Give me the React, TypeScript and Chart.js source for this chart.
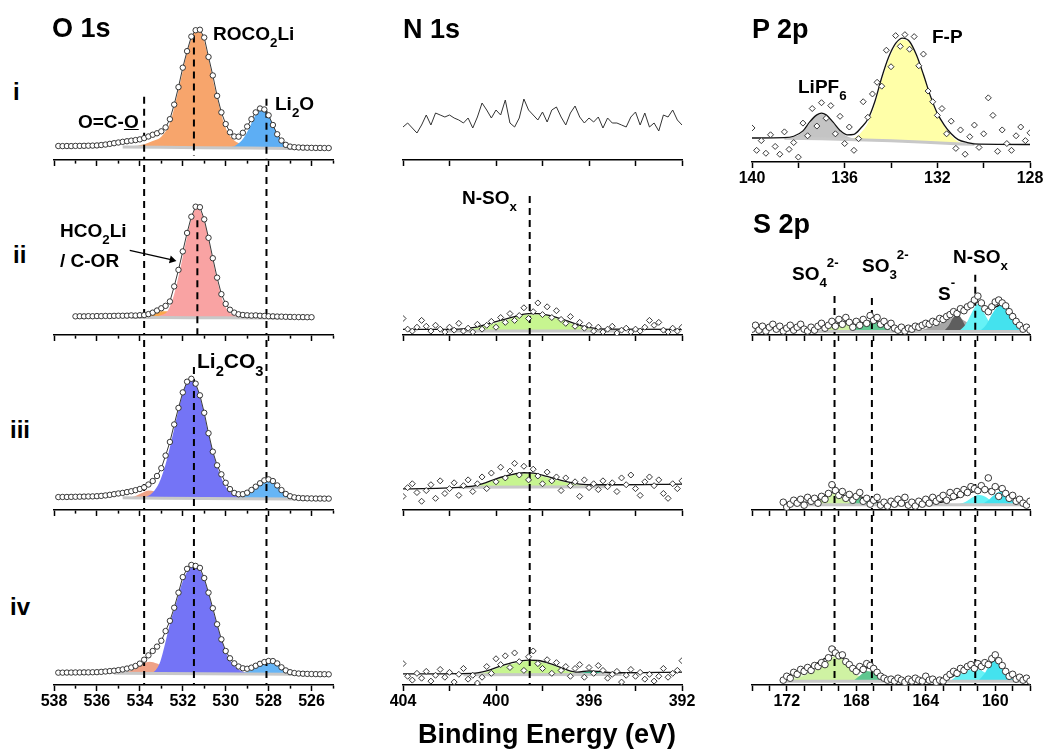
import React, { useEffect, useRef } from 'react';
import { Chart, registerables } from 'chart.js';

Chart.register(...registerables);

const AREA_H = 175;
const AXIS_H = 34;
const PAD = 22;
const FONT = '"Liberation Sans", Arial, Helvetica, sans-serif';
Chart.defaults.font.family = FONT;

// ================= O 1s =================
const O1S_BE = [537.8, 537.6, 537.4, 537.2, 537.0, 536.8, 536.6, 536.4, 536.2, 536.0,
  535.8, 535.6, 535.4, 535.2, 535.0, 534.8, 534.6, 534.4, 534.2, 534.0,
  533.8, 533.6, 533.4, 533.2, 533.0, 532.8, 532.6, 532.4, 532.2, 532.0,
  531.8, 531.6, 531.4, 531.2, 531.0, 530.8, 530.6, 530.4, 530.2, 530.0,
  529.8, 529.6, 529.4, 529.2, 529.0, 528.8, 528.6, 528.4, 528.2, 528.0,
  527.8, 527.6, 527.4, 527.2, 527.0, 526.8, 526.6, 526.4, 526.2, 526.0,
  525.8, 525.6, 525.4, 525.2];
const O1S_I = [14.4, 14.3, 14.4, 14.3, 14.5, 14.5, 14.6, 14.7, 14.8, 15.0,
  15.4, 15.9, 16.6, 17.3, 18.0, 18.7, 19.3, 19.9, 20.5, 21.2,
  22.5, 24.2, 26.0, 27.5, 29.5, 33.5, 42, 57, 75, 95,
  112, 127, 133.5, 134, 126, 106, 87, 66, 49, 37,
  28.5, 24.2, 24, 28, 34.5, 42, 49, 53, 52, 46,
  36, 26.5, 20, 15.6, 13.8, 13.2, 12.9, 12.7, 12.6, 12.5,
  12.4, 12.4, 12.3, 12.3];
const O1S_II = [null, null, null, null, 19.2, 19.3, 19.2, 19.4, 19.3, 19.5,
  19.4, 19.6, 19.5, 19.7, 19.8, 19.8, 19.9, 20.2, 20.0, 20.4,
  20.5, 21.5, 23, 25.2, 27.5, 30, 34.5, 50, 67, 86,
  105, 121.7, 132, 131.5, 119, 100, 79, 59, 42, 32,
  26, 23, 21.3, 20.6, 20.3, 20, 20.2, 19.8, 19.6, 19.3,
  19.2, 19, 18.9, 18.7, 18.6, 18.5, 18.4, 18.4, 18.3, 18.3,
  null, null, null, null];
const O1S_III = [13.3, 13.4, 13.4, 13.5, 13.6, 13.7, 13.8, 13.9, 14.0, 14.2,
  14.5, 15.0, 15.6, 16.3, 17.0, 17.6, 18.4, 19.3, 20.4, 21.6,
  23.3, 26.2, 29.8, 35, 43, 56, 70, 88, 105, 121,
  132, 135, 130, 118, 100, 79, 60, 46, 36.7, 28,
  21.5, 17.5, 16.2, 16.3, 17.8, 20.6, 24, 27.5, 30.5, 31.5,
  29.8, 25.3, 20.5, 16.5, 14.2, 13, 12.4, 12.1, 12, 11.9,
  11.8, 11.8, 11.7, 11.7];
const O1S_IV = [12.7, 12.7, 12.8, 12.8, 12.9, 12.9, 13.0, 13.0, 13.1, 13.2,
  13.5, 13.9, 14.3, 14.7, 15.3, 16.0, 16.9, 18.0, 19.6, 22.0,
  26, 30.5, 35, 39.5, 45.5, 55.5, 66, 79.5, 95, 111,
  119.5, 123.5, 122.5, 120.5, 110, 95, 79, 62.5, 47, 35,
  27.5, 22.3, 19, 17.2, 16.7, 17.8, 19.8, 21.8, 23.6, 24.7,
  24.6, 22.2, 18.2, 15, 13.2, 12.3, 11.8, 11.6, 11.4, 11.3,
  11.2, 11.1, 11.1, 11.0];

// panel i components
const O1S_I_BG_BE = [534.8, 533.0, 531.0, 529.0, 527.0, 526.6];
const O1S_I_BG = [13.4, 13.0, 12.7, 12.3, 11.9, 11.9];
const O1S_I_OCO_BE = [534.6, 534.0, 533.6, 533.2, 532.8, 532.4, 532.0];
const O1S_I_OCO = [13.4, 15.5, 17, 16.5, 14.5, 13.2, 12.9];
const O1S_I_ROCO_BE = [534.4, 533.8, 533.4, 533.0, 532.6, 532.2, 531.8, 531.5, 531.3, 531.1, 530.8, 530.4, 530.0, 529.6, 529.2, 528.8, 528.4];
const O1S_I_ROCO = [13.3, 16, 19.5, 24, 38, 72, 110, 130, 133, 129, 104, 64, 33, 20, 16, 13.5, 12.5];
const O1S_I_LI2O_BE = [529.8, 529.5, 529.2, 528.9, 528.6, 528.3, 528.0, 527.7, 527.4, 527.1, 526.8];
const O1S_I_LI2O = [12.6, 15.5, 21.5, 33, 46.5, 52.5, 46, 31.5, 19.5, 14.5, 12.2];
// panel ii components
const O1S_II_BG_BE = [534.4, 533.0, 531.5, 530.0, 528.5, 527.4];
const O1S_II_BG = [18.0, 17.9, 17.8, 17.7, 17.6, 17.5];
const O1S_II_OR_BE = [534.2, 533.8, 533.4, 533.0, 532.7, 532.4, 532.0, 531.6];
const O1S_II_OR = [18, 19.5, 22.5, 24.5, 24.5, 22.5, 19.5, 18];
const O1S_II_PINK_BE = [533.4, 533.0, 532.7, 532.4, 532.1, 531.8, 531.55, 531.32, 531.1, 530.85, 530.6, 530.35, 530.1, 529.85, 529.5, 529.1];
const O1S_II_PINK = [18, 20.5, 25, 42, 70, 101, 123, 131, 124, 104, 77, 52, 33, 24, 19.5, 17.7];
const O1S_II_ARROW_BE = [534.47, 532.5];
const O1S_II_ARROW = [87, 77.3];
// panel iii components
const O1S_III_BG_BE = [534.8, 533.0, 531.0, 529.0, 527.0, 526.3];
const O1S_III_BG = [12.5, 12.2, 11.9, 11.6, 11.3, 11.2];
const O1S_III_SAL_BE = [534.6, 534.2, 533.9, 533.6, 533.3, 533.0, 532.7, 532.4];
const O1S_III_SAL = [12.4, 14.5, 17.5, 20, 19, 16, 13.5, 12.2];
const O1S_III_CO3_BE = [533.8, 533.4, 533.1, 532.8, 532.5, 532.2, 531.9, 531.64, 531.4, 531.1, 530.8, 530.5, 530.2, 529.9, 529.5, 529.1];
const O1S_III_CO3 = [12.3, 18, 28, 47, 74, 103, 126, 134, 129, 108, 78, 52, 33, 21, 14.5, 12];
const O1S_III_LI2O_BE = [529.6, 529.2, 528.9, 528.6, 528.3, 528.05, 527.8, 527.5, 527.2, 526.9, 526.5];
const O1S_III_LI2O = [11.9, 14, 18.5, 23.5, 29, 31, 29.3, 23, 16.5, 13, 11.3];
// panel iv components
const O1S_IV_BG_BE = [535.2, 533.0, 531.0, 529.0, 527.0, 526.3];
const O1S_IV_BG = [12.0, 11.8, 11.6, 11.4, 11.1, 11.0];
const O1S_IV_SAL_BE = [535.0, 534.6, 534.2, 533.9, 533.55, 533.2, 532.9, 532.6, 532.3, 532.0];
const O1S_IV_SAL = [12, 13.5, 17, 21.5, 24, 22, 18, 14.5, 12.5, 11.8];
const O1S_IV_CO3_BE = [533.6, 533.3, 533.05, 532.85, 532.6, 532.3, 532.0, 531.75, 531.5, 531.25, 531.0, 530.75, 530.5, 530.25, 530.0, 529.7, 529.4, 529.0, 528.6];
const O1S_IV_CO3 = [11.8, 14.5, 24, 40, 63, 85, 107, 118, 122, 119.5, 108.5, 90, 69.5, 50.5, 34, 22.5, 16, 12.5, 11.4];
const O1S_IV_LI2O_BE = [529.3, 528.9, 528.6, 528.3, 528.0, 527.75, 527.45, 527.15, 526.8, 526.5];
const O1S_IV_LI2O = [11.5, 14.5, 18.5, 22.5, 24.5, 24, 19, 14.5, 12, 11.1];

// ================= N 1s =================
const N1S_BE = [404, 403.8, 403.6, 403.4, 403.2, 403, 402.8, 402.6, 402.4, 402.2,
  402, 401.8, 401.6, 401.4, 401.2, 401, 400.8, 400.6, 400.4, 400.2,
  400, 399.8, 399.6, 399.4, 399.2, 399, 398.8, 398.6, 398.4, 398.2,
  398, 397.8, 397.6, 397.4, 397.2, 397, 396.8, 396.6, 396.4, 396.2,
  396, 395.8, 395.6, 395.4, 395.2, 395, 394.8, 394.6, 394.4, 394.2,
  394, 393.8, 393.6, 393.4, 393.2, 393, 392.8, 392.6, 392.4, 392.2, 392];
const N1S_I = [33, 37, 32, 27, 35, 45, 35, 47, 45, 43,
  45, 42, 40, 37, 42, 32, 43, 57, 50, 42,
  50, 45, 60, 37, 33, 42, 61, 50, 45, 40,
  48, 38, 50, 53, 43, 35, 47, 54, 43, 37,
  42, 38, 43, 32, 42, 37, 37, 35, 33, 43,
  48, 35, 47, 33, 37, 29, 45, 43, 50, 40, 35];
const N1S_II = [17, 6, 4, 8, 15, 9, 4, 10, 6, 3,
  8, 5, 12, 4, 7, 3, 11, 6, 10, 14,
  8, 18, 13, 22, 15, 20, 28, 17, 24, 33,
  21, 29, 18, 25, 16, 12, 19, 9, 13, 7,
  10, 4, 8, 3, 6, 9, 2, 5, 7, 3,
  6, 4, 8, 15, 10, 13, 5, 3, 7, 4, 8];
const N1S_III = [14, 23, 27, 18, 9, 20, 26, 12, 30, 17,
  22, 28, 15, 25, 31, 19, 27, 34, 22, 38,
  29, 44, 33, 40, 48, 36, 45, 31, 42, 35,
  27, 39, 30, 34, 20, 33, 25, 29, 14, 31,
  23, 27, 21, 30, 24, 28, 19, 33, 26, 36,
  22, 15, 29, 34, 25, 31, 17, 12, 27, 22, 30];
const N1S_IV = [22, 9, 5, 12, 7, 14, 4, 10, 16, 8,
  13, 3, 11, 17, 6, 10, 2, 8, 19, 12,
  27, 21, 30, 18, 33, 24, 15, 29, 35, 22,
  17, 26, 12, 23, 15, 19, 9, 17, 21, 8,
  18, 12, 20, 15, 7, 11, 14, 3, 10, 16,
  9, 13, 6, 11, 4, 9, 17, 8, 12, 15, 25];
const N1S_II_ENV_BE = [404, 401.6, 401.0, 400.4, 399.8, 399.2, 398.6, 398.2, 397.6, 397.0, 396.4, 395.8, 395.2, 392];
const N1S_II_ENV = [5.7, 6, 7.5, 11, 15, 19, 22, 22, 19.5, 15, 10, 7, 6, 5.7];
const N1S_II_BG_BE = [402.2, 394.8];
const N1S_II_BG = [4, 4];
const N1S_II_G_BE = [401.6, 401.0, 400.4, 399.8, 399.2, 398.6, 398.2, 397.6, 397.0, 396.4, 395.8, 395.2];
const N1S_II_G = [4.2, 6.5, 10, 14, 18, 21, 21, 18.5, 14, 9, 6, 4.2];
const N1S_III_ENV_BE = [404, 401.2, 400.6, 400.0, 399.4, 398.8, 398.4, 397.8, 397.2, 396.6, 396.0, 395.0, 392];
const N1S_III_ENV = [21.7, 24, 27, 32, 36, 38.3, 38, 34.5, 30.5, 27.5, 26, 26, 26.7];
const N1S_III_BG_BE = [401.6, 395.2];
const N1S_III_BG = [23.5, 24];
const N1S_III_G_BE = [401.2, 400.6, 400.0, 399.4, 398.8, 398.4, 397.8, 397.2, 396.6, 396.0, 395.6];
const N1S_III_G = [23.8, 26.5, 31, 35, 37.5, 37, 33.5, 29.5, 26.5, 24.8, 24];
const N1S_IV_ENV_BE = [404, 401.0, 400.4, 399.8, 399.2, 398.6, 398.2, 397.6, 397.0, 396.5, 396.0, 395.6, 395.0, 392];
const N1S_IV_ENV = [11.5, 12, 14.5, 19.5, 23.5, 25.5, 25.2, 21.5, 16, 13.3, 14.5, 14, 12.6, 13.3];
const N1S_IV_BG_BE = [401.4, 394.6];
const N1S_IV_BG = [10.6, 10.8];
const N1S_IV_G_BE = [401.0, 400.4, 399.8, 399.2, 398.6, 398.2, 397.6, 397.0, 396.5, 396.1];
const N1S_IV_G = [10.8, 13.5, 18.5, 22.5, 24.8, 24.3, 20.5, 15, 12, 10.8];
const N1S_IV_T_BE = [396.6, 396.2, 395.9, 395.6, 395.3, 395.0];
const N1S_IV_T = [10.8, 13, 14.5, 13.5, 11.5, 10.8];

// ================= P 2p =================
const P2P_BE = [140, 139.8, 139.6, 139.4, 139.2, 139, 138.8, 138.6, 138.4, 138.2,
  138, 137.8, 137.6, 137.4, 137.2, 137, 136.8, 136.6, 136.4, 136.2,
  136, 135.8, 135.6, 135.4, 135.2, 135, 134.8, 134.6, 134.4, 134.2,
  134, 133.8, 133.6, 133.4, 133.2, 133, 132.8, 132.6, 132.4, 132.2,
  132, 131.8, 131.6, 131.4, 131.2, 131, 130.8, 130.6, 130.4, 130.2,
  130, 129.8, 129.6, 129.4, 129.2, 129, 128.8, 128.6, 128.4, 128.2, 128];
const P2P = [35, 12, 22, 9, 28, 16, 8, 31, 13, 20,
  5, 40, 27, 55, 37, 61, 45, 58, 29, 47,
  19, 36, 12, 24, 62, 46, 70, 82, 78, 115,
  98, 130, 119, 131, 116, 129, 99, 111, 73, 62,
  48, 55, 29, 42, 14, 33, 8, 26, 38, 15,
  29, 66, 48, 11, 33, 19, 12, 27, 36, 22, 30];
const P2P_ENV_BE = [140, 138.6, 138.2, 137.8, 137.5, 137.2, 137.0, 136.8, 136.5, 136.2, 135.9, 135.6, 135.3, 135.0, 134.7, 134.4, 134.1, 133.8, 133.5, 133.2, 132.9, 132.6, 132.3, 132.0, 131.7, 131.4, 131.1, 130.7, 130.2, 128];
const P2P_ENV = [24.7, 25, 26.5, 32, 41.5, 48.5, 50.3, 48.5, 41, 32.5, 28, 28.5, 35, 44, 62, 87, 108, 122, 127.5, 124, 110, 90, 68, 50, 38, 29, 23, 20, 18.3, 18];
const P2P_BG_BE = [138.6, 137, 135.5, 134, 132.5, 131, 130.4];
const P2P_BG = [24.4, 23.8, 23, 21.8, 20.2, 18.6, 18.2];
const P2P_LIPF6_BE = [138.4, 137.9, 137.6, 137.3, 137.0, 136.7, 136.4, 136.1, 135.8, 135.4];
const P2P_LIPF6 = [24.3, 29, 37, 46, 49.5, 46, 37, 29.5, 25.5, 23.2];
const P2P_FP_BE = [136.0, 135.6, 135.3, 135.0, 134.7, 134.4, 134.1, 133.8, 133.5, 133.2, 132.9, 132.6, 132.3, 132.0, 131.7, 131.4, 131.1, 130.7];
const P2P_FP = [23.2, 24.8, 30, 40, 59, 84, 105, 120, 126, 122.5, 108.5, 88.5, 66.5, 48.5, 36.5, 27, 21, 18.4];

// ================= S 2p =================
const S2P_BE = [174, 173.8, 173.6, 173.4, 173.2, 173, 172.8, 172.6, 172.4, 172.2,
  172, 171.8, 171.6, 171.4, 171.2, 171, 170.8, 170.6, 170.4, 170.2,
  170, 169.8, 169.6, 169.4, 169.2, 169, 168.8, 168.6, 168.4, 168.2,
  168, 167.8, 167.6, 167.4, 167.2, 167, 166.8, 166.6, 166.4, 166.2,
  166, 165.8, 165.6, 165.4, 165.2, 165, 164.8, 164.6, 164.4, 164.2,
  164, 163.8, 163.6, 163.4, 163.2, 163, 162.8, 162.6, 162.4, 162.2,
  162, 161.8, 161.6, 161.4, 161.2, 161, 160.8, 160.6, 160.4, 160.2,
  160, 159.8, 159.6, 159.4, 159.2, 159, 158.8, 158.6, 158.4, 158.2, 158];
const S2P_II = [6, 10, 5, 9, 4, 8, 11, 6, 9, 4,
  7, 10, 5, 8, 11, 6, 4, 8, 5, 9,
  12, 7, 10, 14, 9, 16, 11, 18, 13, 8,
  14, 10, 16, 12, 20, 15, 18, 11, 14, 9,
  12, 7, 5, 8, 4, 7, 6, 9, 8, 10,
  12, 11, 14, 13, 17, 16, 19, 21, 24, 22,
  27, 25, 29, 31, 36, 40, 33, 27, 24, 29,
  34, 36, 33, 30, 24, 19, 14, 10, 6, 8, 5];
const S2P_III = [null, null, null, null, null, null, null, null, null, 8,
  3, 6, 10, 7, 11, 5, 13, 9, 12, 7,
  14, 11, 17, 26, 20, 15, 19, 12, 16, 10,
  14, 18, 9, 12, 6, 10, 13, 5, 8, 4,
  9, 6, 11, 7, 13, 5, 8, 4, 9, 6,
  11, 7, 13, 9, 12, 15, 10, 18, 14, 19,
  16, 21, 18, 24, 22, 20, 25, 21, 33, 19,
  24, 14, 22, 17, 12, 15, 9, 11, 7, 5, 9];
const S2P_IV = [null, null, null, null, null, null, null, null, null, 5,
  9, 7, 13, 11, 16, 14, 18, 15, 20, 19,
  23, 21, 28, 37, 33, 30, 31, 24, 21, 17,
  14, 19, 16, 22, 20, 17, 13, 9, 7, 5,
  6, 4, 7, 5, 3, 6, 4, 7, 5, 4,
  9, 5, 6, 3, 5, 4, 8, 11, 14, 12,
  17, 15, 19, 21, 17, 22, 19, 23, 21, 27,
  31, 25, 20, 14, 9, 11, 6, 8, 5, 7, 4];
// S 2p ii fit
const S2P_II_ENV_BE = [174, 170.2, 169.8, 169.4, 169.0, 168.6, 168.2, 167.8, 167.4, 167.0, 166.6, 166.2, 165.8, 165.0, 164.4, 163.8, 163.2, 162.8, 162.4, 162.0, 161.6, 161.2, 161.0, 160.8, 160.5, 160.2, 159.9, 159.6, 159.3, 159.0, 158.7, 158.4, 158.0];
const S2P_II_ENV = [7, 7, 8.5, 10.5, 12.5, 13.5, 13, 13, 14, 14, 12.5, 9.5, 7.5, 7, 8, 10.5, 14.5, 18, 21.5, 24, 27.5, 32, 34, 32.5, 28, 27, 29.5, 32, 29, 22, 14, 9, 7.5];
const S2P_II_BG_BE = [170.6, 158.4];
const S2P_II_BG = [3.5, 3.5];
const S2P_II_SO4_BE = [170.2, 169.8, 169.4, 169.0, 168.6, 168.2, 167.8, 167.4];
const S2P_II_SO4 = [3.5, 6, 9.5, 12, 12.5, 10, 6.5, 3.5];
const S2P_II_SO3_BE = [168.6, 168.2, 167.8, 167.4, 167.0, 166.6, 166.2, 165.8];
const S2P_II_SO3 = [3.5, 6, 10, 13, 13.3, 11, 7, 3.5];
const S2P_II_GR_BE = [164.6, 164.0, 163.4, 163.0, 162.6, 162.2, 161.8, 161.4, 161.0, 160.6];
const S2P_II_GR = [3.5, 6.5, 10, 13.5, 17, 18, 15, 10, 6, 3.5];
const S2P_II_S_BE = [163.0, 162.7, 162.45, 162.2, 161.95, 161.7, 161.4];
const S2P_II_S = [3.5, 9, 17, 21.5, 17, 9, 3.5];
const S2P_II_C1_BE = [162.1, 161.7, 161.4, 161.2, 161.0, 160.8, 160.5, 160.2, 159.9];
const S2P_II_C1 = [3.5, 11, 21, 28, 32, 28, 18, 9, 3.5];
const S2P_II_C2_BE = [160.9, 160.5, 160.2, 159.9, 159.65, 159.4, 159.1, 158.8, 158.5];
const S2P_II_C2 = [3.5, 11, 21, 28.5, 30.5, 28, 20, 10, 3.5];
// S 2p iii fit
const S2P_III_ENV_BE = [172.2, 170.8, 170.2, 169.8, 169.4, 169.0, 168.6, 168.2, 167.8, 167.4, 167.0, 166.5, 165.5, 163.5, 162.8, 162.2, 161.6, 161.0, 160.5, 160.0, 159.6, 159.2, 158.8, 158.4, 158.0];
const S2P_III_ENV = [7.5, 8, 11, 15, 18, 17, 14, 13, 13.5, 11.5, 9, 7.5, 7, 7.5, 9, 12.5, 17, 20, 21, 22, 20.5, 15.5, 10.5, 8, 7.5];
const S2P_III_BG_BE = [171.2, 158.3];
const S2P_III_BG = [5.5, 5.5];
const S2P_III_SO4_BE = [170.8, 170.2, 169.8, 169.4, 169.0, 168.6, 168.2, 167.9];
const S2P_III_SO4 = [5.5, 8.5, 13, 17, 15, 10, 6.5, 5.5];
const S2P_III_SO3_BE = [168.6, 168.2, 167.8, 167.4, 167.0, 166.6, 166.3];
const S2P_III_SO3 = [5.5, 8.5, 12.5, 11, 8, 6, 5.5];
const S2P_III_C1_BE = [162.2, 161.7, 161.3, 161.0, 160.6, 160.2, 159.8];
const S2P_III_C1 = [5.5, 8.5, 13, 15.5, 14, 9, 5.5];
const S2P_III_C2_BE = [160.8, 160.4, 160.0, 159.7, 159.4, 159.0, 158.6];
const S2P_III_C2 = [5.5, 10, 16.5, 19, 16.5, 10, 5.5];
// S 2p iv fit
const S2P_IV_ENV_BE = [172.2, 171.6, 171.0, 170.4, 169.9, 169.4, 169.1, 168.8, 168.4, 168.0, 167.6, 167.3, 167.0, 166.6, 166.2, 165.6, 164.0, 163.2, 162.6, 162.1, 161.6, 161.2, 160.8, 160.4, 160.0, 159.7, 159.4, 159.0, 158.6, 158.0];
const S2P_IV_ENV = [8, 12, 16.5, 21, 26.5, 30.5, 31, 28, 21, 15, 16, 18, 15.5, 10, 7, 5.5, 6, 5.5, 7.5, 13, 17.5, 19.5, 20.5, 21, 26, 22.5, 15, 8.5, 6.5, 6];
const S2P_IV_BG_BE = [172.4, 158.2];
const S2P_IV_BG = [3.8, 3.8];
const S2P_IV_PALE_BE = [172.4, 171.8, 171.2, 170.6, 170.0, 169.4, 168.8];
const S2P_IV_PALE = [3.8, 9.5, 13.5, 14.5, 12, 7.5, 3.8];
const S2P_IV_SO4_BE = [172.0, 171.4, 170.8, 170.3, 169.8, 169.4, 169.1, 168.8, 168.4, 168.0, 167.6, 167.2];
const S2P_IV_SO4 = [3.8, 7, 11, 16.5, 23, 28.5, 30, 27, 19, 11, 6.5, 3.8];
const S2P_IV_SO3_BE = [168.2, 167.8, 167.4, 167.0, 166.6, 166.2];
const S2P_IV_SO3 = [3.8, 9.5, 14.5, 12.5, 7.5, 3.8];
const S2P_IV_C1_BE = [162.6, 162.1, 161.6, 161.2, 160.8, 160.4, 160.0, 159.7];
const S2P_IV_C1 = [3.8, 10.5, 15, 16.5, 15, 10.5, 6, 3.8];
const S2P_IV_C2_BE = [161.0, 160.6, 160.3, 160.0, 159.7, 159.4, 159.0, 158.7];
const S2P_IV_C2 = [3.8, 12, 21.5, 26.5, 22, 13, 6.5, 3.8];

// ================= layout / styling =================
type YV = number | null;
type Curve = { xs: number[]; ys: YV[] };
type Comp = Curve & { color: string };
type Dash = { x: number; top: number; bottom: number };
type Axis = { min: number; max: number; step: number; labelEvery: number; minor: boolean; left: number; right: number };
type Spec = {
  key: string; ax: Axis; axisY: number; labels: boolean;
  pts?: Curve & { style: string; r: number; line: boolean };
  trace?: Curve; env?: Curve; bg?: Curve; comps: Comp[]; dashes: Dash[]; arrow?: Curve;
};

const O1S_AX: Axis = { min: 525, max: 538, step: 1, labelEvery: 2, minor: true, left: 54, right: 333 };
const N1S_AX: Axis = { min: 392, max: 404, step: 2, labelEvery: 4, minor: false, left: 403, right: 682 };
const P2P_AX: Axis = { min: 128, max: 140, step: 2, labelEvery: 4, minor: false, left: 752, right: 1030 };
const S2P_AX: Axis = { min: 158, max: 174, step: 1, labelEvery: 4, minor: false, left: 752, right: 1030 };
const ROWS = [160, 335, 510, 685];

const C = {
  orange: '#F7A56C', blue: '#5DAEF4', pink: '#F9A3A3', orange2: '#FBA84E', violet: '#7474F6',
  salmon: '#EFA287', lblue: '#66B5F6', oco: '#D6D6D6', ngreen: '#C7F590', teal: '#2FB487',
  yellow: '#FFFFA8', pgray: '#C4C4C4', pale: '#E4F7CF', lg: '#CFF2A3', sgreen: '#5FC790',
  lgray: '#A6A6A6', dgray: '#5E5E5E', cyan1: '#66F2F6', cyan2: '#44E2EE',
};

const cv = (xs: number[], ys: YV[]): Curve => ({ xs, ys });
const cp = (xs: number[], ys: number[], color: string): Comp => ({ xs, ys, color });
const full = (x: number): Dash => ({ x, top: AREA_H, bottom: 0 });

const PANELS: Spec[] = [
  { key: 'o1', ax: O1S_AX, axisY: ROWS[0], labels: false,
    pts: { xs: O1S_BE, ys: O1S_I, style: 'circle', r: 2.7, line: true },
    bg: cv(O1S_I_BG_BE, O1S_I_BG),
    comps: [cp(O1S_I_OCO_BE, O1S_I_OCO, C.oco), cp(O1S_I_ROCO_BE, O1S_I_ROCO, C.orange), cp(O1S_I_LI2O_BE, O1S_I_LI2O, C.blue)],
    dashes: [{ x: 533.8, top: 65, bottom: 0 }, { x: 531.48, top: 128, bottom: 4 }, { x: 528.1, top: 63, bottom: 0 }] },
  { key: 'o2', ax: O1S_AX, axisY: ROWS[1], labels: false,
    pts: { xs: O1S_BE, ys: O1S_II, style: 'circle', r: 2.7, line: true },
    bg: cv(O1S_II_BG_BE, O1S_II_BG),
    comps: [cp(O1S_II_OR_BE, O1S_II_OR, C.orange2), cp(O1S_II_PINK_BE, O1S_II_PINK, C.pink)],
    dashes: [full(533.8), { x: 531.32, top: 118, bottom: 0 }, full(528.1)],
    arrow: cv(O1S_II_ARROW_BE, O1S_II_ARROW) },
  { key: 'o3', ax: O1S_AX, axisY: ROWS[2], labels: false,
    pts: { xs: O1S_BE, ys: O1S_III, style: 'circle', r: 2.7, line: true },
    bg: cv(O1S_III_BG_BE, O1S_III_BG),
    comps: [cp(O1S_III_SAL_BE, O1S_III_SAL, C.salmon), cp(O1S_III_CO3_BE, O1S_III_CO3, C.violet), cp(O1S_III_LI2O_BE, O1S_III_LI2O, C.lblue)],
    dashes: [full(533.8), { x: 531.48, top: 147, bottom: 0 }, full(528.1)] },
  { key: 'o4', ax: O1S_AX, axisY: ROWS[3], labels: true,
    pts: { xs: O1S_BE, ys: O1S_IV, style: 'circle', r: 2.7, line: true },
    bg: cv(O1S_IV_BG_BE, O1S_IV_BG),
    comps: [cp(O1S_IV_SAL_BE, O1S_IV_SAL, C.salmon), cp(O1S_IV_CO3_BE, O1S_IV_CO3, C.violet), cp(O1S_IV_LI2O_BE, O1S_IV_LI2O, C.lblue)],
    dashes: [full(533.8), full(531.48), full(528.1)] },

  { key: 'n1', ax: N1S_AX, axisY: ROWS[0], labels: false, trace: cv(N1S_BE, N1S_I), comps: [], dashes: [] },
  { key: 'n2', ax: N1S_AX, axisY: ROWS[1], labels: false,
    pts: { xs: N1S_BE, ys: N1S_II, style: 'rectRot', r: 3, line: false },
    env: cv(N1S_II_ENV_BE, N1S_II_ENV), bg: cv(N1S_II_BG_BE, N1S_II_BG),
    comps: [cp(N1S_II_G_BE, N1S_II_G, C.ngreen)], dashes: [{ x: 398.55, top: 143, bottom: 0 }] },
  { key: 'n3', ax: N1S_AX, axisY: ROWS[2], labels: false,
    pts: { xs: N1S_BE, ys: N1S_III, style: 'rectRot', r: 3, line: false },
    env: cv(N1S_III_ENV_BE, N1S_III_ENV), bg: cv(N1S_III_BG_BE, N1S_III_BG),
    comps: [cp(N1S_III_G_BE, N1S_III_G, C.ngreen)], dashes: [full(398.55)] },
  { key: 'n4', ax: N1S_AX, axisY: ROWS[3], labels: true,
    pts: { xs: N1S_BE, ys: N1S_IV, style: 'rectRot', r: 3, line: false },
    env: cv(N1S_IV_ENV_BE, N1S_IV_ENV), bg: cv(N1S_IV_BG_BE, N1S_IV_BG),
    comps: [cp(N1S_IV_G_BE, N1S_IV_G, C.ngreen), cp(N1S_IV_T_BE, N1S_IV_T, C.teal)], dashes: [full(398.55)] },

  { key: 'p1', ax: P2P_AX, axisY: 162, labels: true,
    pts: { xs: P2P_BE, ys: P2P, style: 'rectRot', r: 3, line: false },
    env: cv(P2P_ENV_BE, P2P_ENV), bg: cv(P2P_BG_BE, P2P_BG),
    comps: [cp(P2P_LIPF6_BE, P2P_LIPF6, C.pgray), cp(P2P_FP_BE, P2P_FP, C.yellow)], dashes: [] },

  { key: 's2', ax: S2P_AX, axisY: ROWS[1], labels: false,
    pts: { xs: S2P_BE, ys: S2P_II, style: 'circle', r: 3.3, line: false },
    env: cv(S2P_II_ENV_BE, S2P_II_ENV), bg: cv(S2P_II_BG_BE, S2P_II_BG),
    comps: [cp(S2P_II_SO4_BE, S2P_II_SO4, C.lg), cp(S2P_II_SO3_BE, S2P_II_SO3, C.sgreen), cp(S2P_II_GR_BE, S2P_II_GR, C.lgray),
      cp(S2P_II_S_BE, S2P_II_S, C.dgray), cp(S2P_II_C1_BE, S2P_II_C1, C.cyan1), cp(S2P_II_C2_BE, S2P_II_C2, C.cyan2)],
    dashes: [{ x: 169.25, top: 40, bottom: 0 }, { x: 167.1, top: 38, bottom: 0 }, { x: 161.15, top: 62, bottom: 0 }] },
  { key: 's3', ax: S2P_AX, axisY: ROWS[2], labels: false,
    pts: { xs: S2P_BE, ys: S2P_III, style: 'circle', r: 3.3, line: false },
    env: cv(S2P_III_ENV_BE, S2P_III_ENV), bg: cv(S2P_III_BG_BE, S2P_III_BG),
    comps: [cp(S2P_III_SO4_BE, S2P_III_SO4, C.lg), cp(S2P_III_SO3_BE, S2P_III_SO3, C.sgreen), cp(S2P_III_C1_BE, S2P_III_C1, C.cyan1), cp(S2P_III_C2_BE, S2P_III_C2, C.cyan2)],
    dashes: [full(169.25), full(167.1), full(161.15)] },
  { key: 's4', ax: S2P_AX, axisY: ROWS[3], labels: true,
    pts: { xs: S2P_BE, ys: S2P_IV, style: 'circle', r: 3.3, line: false },
    env: cv(S2P_IV_ENV_BE, S2P_IV_ENV), bg: cv(S2P_IV_BG_BE, S2P_IV_BG),
    comps: [cp(S2P_IV_PALE_BE, S2P_IV_PALE, C.pale), cp(S2P_IV_SO4_BE, S2P_IV_SO4, C.lg), cp(S2P_IV_SO3_BE, S2P_IV_SO3, C.sgreen), cp(S2P_IV_C1_BE, S2P_IV_C1, C.cyan1), cp(S2P_IV_C2_BE, S2P_IV_C2, C.cyan2)],
    dashes: [full(169.25), full(167.1), full(161.15)] },
];

function makeConfig(s: Spec): any {
  const xy = (c: Curve) => c.xs.map((x, i) => ({ x, y: c.ys[i] }));
  const ds: any[] = [];
  if (s.pts) ds.push({
    data: xy(s.pts), showLine: s.pts.line, borderColor: '#3a3a3a', borderWidth: 1,
    pointStyle: s.pts.style, pointRadius: s.pts.r, pointBackgroundColor: '#ffffff',
    pointBorderColor: '#222222', pointBorderWidth: 0.9, fill: false, order: 0,
  });
  if (s.trace) ds.push({ data: xy(s.trace), showLine: true, borderColor: '#333333', borderWidth: 1, pointRadius: 0, fill: false, order: 1 });
  if (s.env) ds.push({ data: xy(s.env), borderColor: '#111111', borderWidth: 1.3, pointRadius: 0, fill: false, cubicInterpolationMode: 'monotone', order: 1 });
  const bgIndex = ds.length;
  if (s.bg) ds.push({ data: xy(s.bg), borderColor: '#c8c8c8', borderWidth: 3, pointRadius: 0, fill: false, order: 3 });
  s.comps.forEach((c, k) => ds.push({
    data: xy(c), borderWidth: 0, borderColor: 'rgba(0,0,0,0)', backgroundColor: c.color,
    fill: s.bg ? bgIndex : 'origin', pointRadius: 0, cubicInterpolationMode: 'monotone', order: 40 - k,
  }));
  s.dashes.forEach((d) => ds.push({
    data: [{ x: d.x, y: d.top }, { x: d.x, y: d.bottom }], borderColor: '#000000', borderWidth: 2,
    borderDash: [7, 5], pointRadius: 0, fill: false, order: 2,
  }));
  if (s.arrow) ds.push({
    data: xy(s.arrow), borderColor: '#000000', borderWidth: 1.2, pointRadius: [0, 4.5], pointStyle: 'triangle',
    pointRotation: [0, 103], pointBackgroundColor: '#000000', pointBorderColor: '#000000', pointBorderWidth: 0,
    fill: false, order: 2,
  });
  const ax = s.ax;
  return {
    type: 'line',
    data: { datasets: ds },
    options: {
      animation: false, responsive: false, maintainAspectRatio: false, events: [],
      layout: { padding: { left: PAD, right: PAD, top: 0, bottom: 0 } },
      plugins: { legend: { display: false }, tooltip: { enabled: false }, title: { display: false } },
      scales: {
        x: {
          type: 'linear', reverse: true, min: ax.min, max: ax.max,
          afterFit: (sc: any) => { sc.height = AXIS_H; sc.paddingLeft = 0; sc.paddingRight = 0; },
          border: { display: true, color: '#000000', width: 1.6 },
          grid: {
            display: true, drawOnChartArea: false, drawTicks: true, tickLength: 6, tickColor: '#000000', tickWidth: 1.5,
            tickBorderDash: (ctx: any) => (ax.minor && ctx.tick && Math.round(ctx.tick.value) % 2 !== 0 ? [3, 40] : []),
          },
          ticks: {
            stepSize: ax.step, autoSkip: false, maxRotation: 0, minRotation: 0, padding: 1, color: '#000000',
            font: { family: FONT, weight: 'bold', size: 16 },
            callback: (v: any) => {
              const n = Math.round(Number(v));
              return s.labels && n % ax.labelEvery === 0 ? String(n) : '';
            },
          },
        },
        y: { display: false, min: 0, max: AREA_H },
      },
    },
  };
}

function Panel({ spec }: { spec: Spec }) {
  const ref = useRef<HTMLCanvasElement | null>(null);
  useEffect(() => {
    if (!ref.current) return;
    const chart = new Chart(ref.current, makeConfig(spec));
    return () => chart.destroy();
  }, [spec]);
  const left = spec.ax.left - PAD;
  const w = spec.ax.right - spec.ax.left + 2 * PAD;
  const h = AREA_H + AXIS_H;
  return (
    <canvas ref={ref} width={w} height={h}
      style={{ position: 'absolute', left, top: spec.axisY - AREA_H, width: w, height: h }} />
  );
}

function Txt({ x, base, size, center, children }: any) {
  return (
    <div style={{
      position: 'absolute', left: x, top: base - 0.8465 * size, fontFamily: FONT, fontWeight: 700,
      fontSize: size, lineHeight: `${size}px`, whiteSpace: 'nowrap', color: '#000',
      transform: center ? 'translateX(-50%)' : undefined,
    }}>{children}</div>
  );
}
const Sub = ({ children }: any) => <span style={{ fontSize: '0.7em', position: 'relative', top: '0.5em', lineHeight: 0 }}>{children}</span>;
const Sup = ({ children }: any) => <span style={{ fontSize: '0.7em', position: 'relative', top: '-0.95em', lineHeight: 0 }}>{children}</span>;

export default function App() {
  return (
    <div style={{ position: 'absolute', left: 0, top: 0, width: 1047, height: 753, overflow: 'hidden', background: '#ffffff' }}>
      {PANELS.map((s) => <Panel key={s.key} spec={s} />)}
      <Txt x={52} base={38} size={27}>O 1s</Txt>
      <Txt x={403} base={39} size={27}>N 1s</Txt>
      <Txt x={752} base={39} size={27}>P 2p</Txt>
      <Txt x={753} base={234} size={27}>S 2p</Txt>
      <Txt x={13} base={100} size={24}>i</Txt>
      <Txt x={13} base={263} size={24}>ii</Txt>
      <Txt x={10} base={438} size={24}>iii</Txt>
      <Txt x={10} base={615} size={24}>iv</Txt>
      <Txt x={213} base={40} size={19}>ROCO<Sub>2</Sub>Li</Txt>
      <Txt x={275} base={110} size={19}>Li<Sub>2</Sub>O</Txt>
      <Txt x={78} base={128} size={19}>O=C-<span style={{ textDecoration: 'underline' }}>O</span></Txt>
      <Txt x={60} base={237} size={19}>HCO<Sub>2</Sub>Li</Txt>
      <Txt x={60} base={267} size={19}>/ C-OR</Txt>
      <Txt x={197} base={368} size={21}>Li<Sub>2</Sub>CO<Sub>3</Sub></Txt>
      <Txt x={462} base={204} size={19}>N-SO<Sub>x</Sub></Txt>
      <Txt x={798} base={93} size={19}>LiPF<Sub>6</Sub></Txt>
      <Txt x={932} base={43} size={19}>F-P</Txt>
      <Txt x={792} base={280} size={19}>SO<Sub>4</Sub><Sup>2-</Sup></Txt>
      <Txt x={862} base={272} size={19}>SO<Sub>3</Sub><Sup>2-</Sup></Txt>
      <Txt x={938} base={300} size={19}>S<Sup>-</Sup></Txt>
      <Txt x={953} base={263} size={19}>N-SO<Sub>x</Sub></Txt>
      <Txt x={547} base={744} size={27} center>Binding Energy (eV)</Txt>
    </div>
  );
}
